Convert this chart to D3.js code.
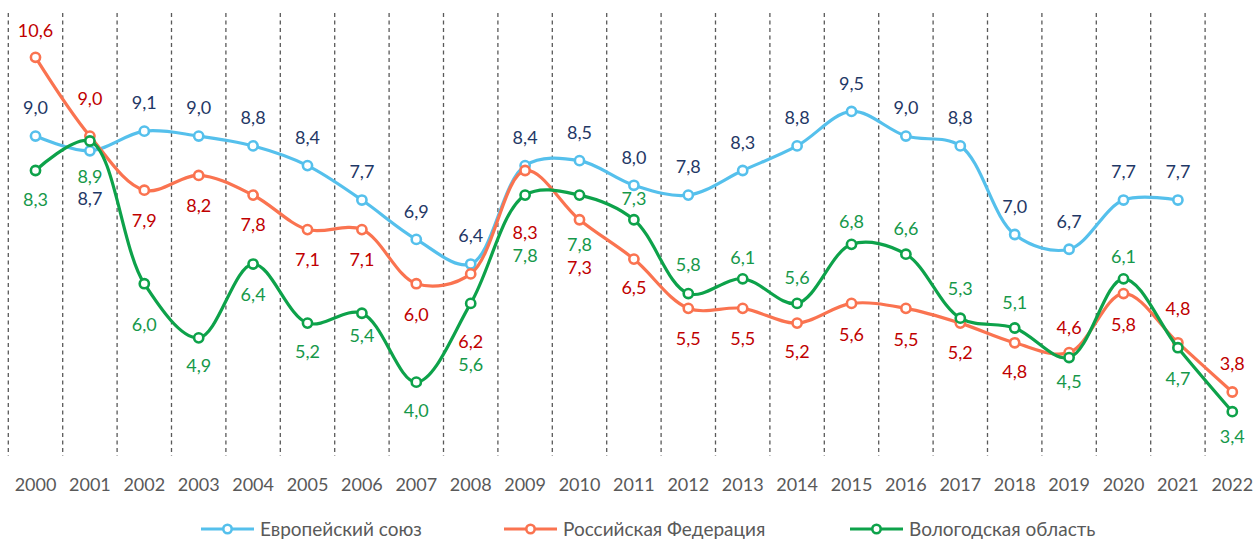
<!DOCTYPE html>
<html>
<head>
<meta charset="utf-8">
<script src="https://cdn.jsdelivr.net/npm/d3@7"></script>
<style>
  html, body { margin: 0; padding: 0; background: #fff; }
  svg { display: block; }
  text { font-family: Lato, "Open Sans", sans-serif; }
</style>
</head>
<body>
<svg id="chart" width="1255" height="542"></svg>
<script>
// ---- data ----
const years = ["2000","2001","2002","2003","2004","2005","2006","2007","2008","2009","2010","2011",
               "2012","2013","2014","2015","2016","2017","2018","2019","2020","2021","2022"];
const euValues = [9.0, 8.7, 9.1, 9.0, 8.8, 8.4, 7.7, 6.9, 6.4, 8.4, 8.5, 8.0,
                  7.8, 8.3, 8.8, 9.5, 9.0, 8.8, 7.0, 6.7, 7.7, 7.7, null];
const ruValues = [10.6, 9.0, 7.9, 8.2, 7.8, 7.1, 7.1, 6.0, 6.2, 8.3, 7.3, 6.5,
                  5.5, 5.5, 5.2, 5.6, 5.5, 5.2, 4.8, 4.6, 5.8, 4.8, 3.8];
const voValues = [8.3, 8.9, 6.0, 4.9, 6.4, 5.2, 5.4, 4.0, 5.6, 7.8, 7.8, 7.3,
                  5.8, 6.1, 5.6, 6.8, 6.6, 5.3, 5.1, 4.5, 6.1, 4.7, 3.4];
const seriesNames = ["Европейский союз", "Российская Федерация", "Вологодская область"];

// label placement offsets (px, relative to point) – layout, not data
const euLabelDy = [-28, 48, -28, -28, -28, -28, -28, -28, -28, -28, -28, -28,
                   -28, -28, -28, -28, -28, -28, -28, -28, -28, -28, 0];
const ruLabelDy = [-27, -37, 30, 30, 30, 30, 30, 31, 68, 62, 48, 29,
                   30, 30, 29, 31, 31, 30, 29, -25, 31, -34, -28];
const voLabelDy = [29, 36, 41, 28, 31, 29, 22, 29, 61, 61, 50, -21,
                   -29, -21, -26, -23, -25, -29, -25, 24, -22, 31, 25];

// ---- layout ----
const svg = d3.select("#chart");
const plot = { left: 8.3, right: 1259.5, top: 13, bottom: 456 };

const x = d3.scaleBand().domain(years).range([plot.left, plot.right]).padding(0);
const y = d3.scaleLinear().domain([2.5, 11.5]).range([plot.bottom, plot.top]);
const cx = d => x(d) + x.bandwidth() / 2;

// gridlines at category boundaries
svg.append("g").selectAll("line")
  .data(years)
  .join("line")
  .attr("x1", d => x(d)).attr("x2", d => x(d))
  .attr("y1", plot.top).attr("y2", plot.bottom)
  .attr("stroke", "#595959")
  .attr("stroke-width", 1.3)
  .attr("stroke-dasharray", "4,3.5");

// x axis labels
const xAxis = d3.axisBottom(x).tickSize(0).tickPadding(0);
const xg = svg.append("g").attr("transform", `translate(0,${plot.bottom})`).call(xAxis);
xg.select(".domain").remove();
xg.selectAll("text")
  .attr("y", 29).attr("dy", "0.35em")
  .attr("fill", "#595959")
  .style("font-size", "18px")
  .style("font-family", "Lato, 'Open Sans', sans-serif");

const series = [
  { name: seriesNames[0], values: euValues, dy: euLabelDy, color: "#55C0EC", label: "#1F3866" },
  { name: seriesNames[1], values: ruValues, dy: ruLabelDy, color: "#FA7350", label: "#C00000" },
  { name: seriesNames[2], values: voValues, dy: voLabelDy, color: "#0DA24A", label: "#16984A" }
];

const line = d3.line()
  .defined(d => d.v != null)
  .x(d => cx(d.year))
  .y(d => y(d.v))
  .curve(d3.curveCatmullRom.alpha(0.5));

const fmt = v => d3.format(".1f")(v).replace(".", ",");

// draw in order: EU, Russia, Vologda (green on top)
series.forEach(s => {
  const pts = years.map((yr, i) => ({ year: yr, v: s.values[i], dy: s.dy[i] }));
  const g = svg.append("g");
  g.append("path")
    .datum(pts)
    .attr("d", line)
    .attr("fill", "none")
    .attr("stroke", s.color)
    .attr("stroke-width", 3.2)
    .attr("stroke-linejoin", "round");
  g.selectAll("circle")
    .data(pts.filter(d => d.v != null))
    .join("circle")
    .attr("cx", d => cx(d.year))
    .attr("cy", d => y(d.v))
    .attr("r", 4.6)
    .attr("fill", "#fff")
    .attr("stroke", s.color)
    .attr("stroke-width", 2.6);
  s.pts = pts;
});

// labels on top
series.forEach(s => {
  svg.append("g").selectAll("text")
    .data(s.pts.filter(d => d.v != null))
    .join("text")
    .attr("x", d => cx(d.year))
    .attr("y", d => y(d.v) + d.dy)
    .attr("dy", "0.35em")
    .attr("text-anchor", "middle")
    .attr("fill", s.label)
    .style("font-size", "18px")
    .text(d => fmt(d.v));
});

// legend
const legendItems = [
  { s: series[0], x0: 201 },
  { s: series[1], x0: 504 },
  { s: series[2], x0: 850 }
];
const ly = 529;
const lg = svg.append("g");
legendItems.forEach(it => {
  lg.append("line")
    .attr("x1", it.x0).attr("x2", it.x0 + 53)
    .attr("y1", ly).attr("y2", ly)
    .attr("stroke", it.s.color).attr("stroke-width", 3.2);
  lg.append("circle")
    .attr("cx", it.x0 + 26.5).attr("cy", ly).attr("r", 4.2)
    .attr("fill", "#fff").attr("stroke", it.s.color).attr("stroke-width", 2.6);
  lg.append("text")
    .attr("x", it.x0 + 59).attr("y", ly).attr("dy", "0.35em")
    .attr("fill", "#595959")
    .style("font-size", "19px")
    .text(it.s.name);
});
</script>
</body>
</html>
